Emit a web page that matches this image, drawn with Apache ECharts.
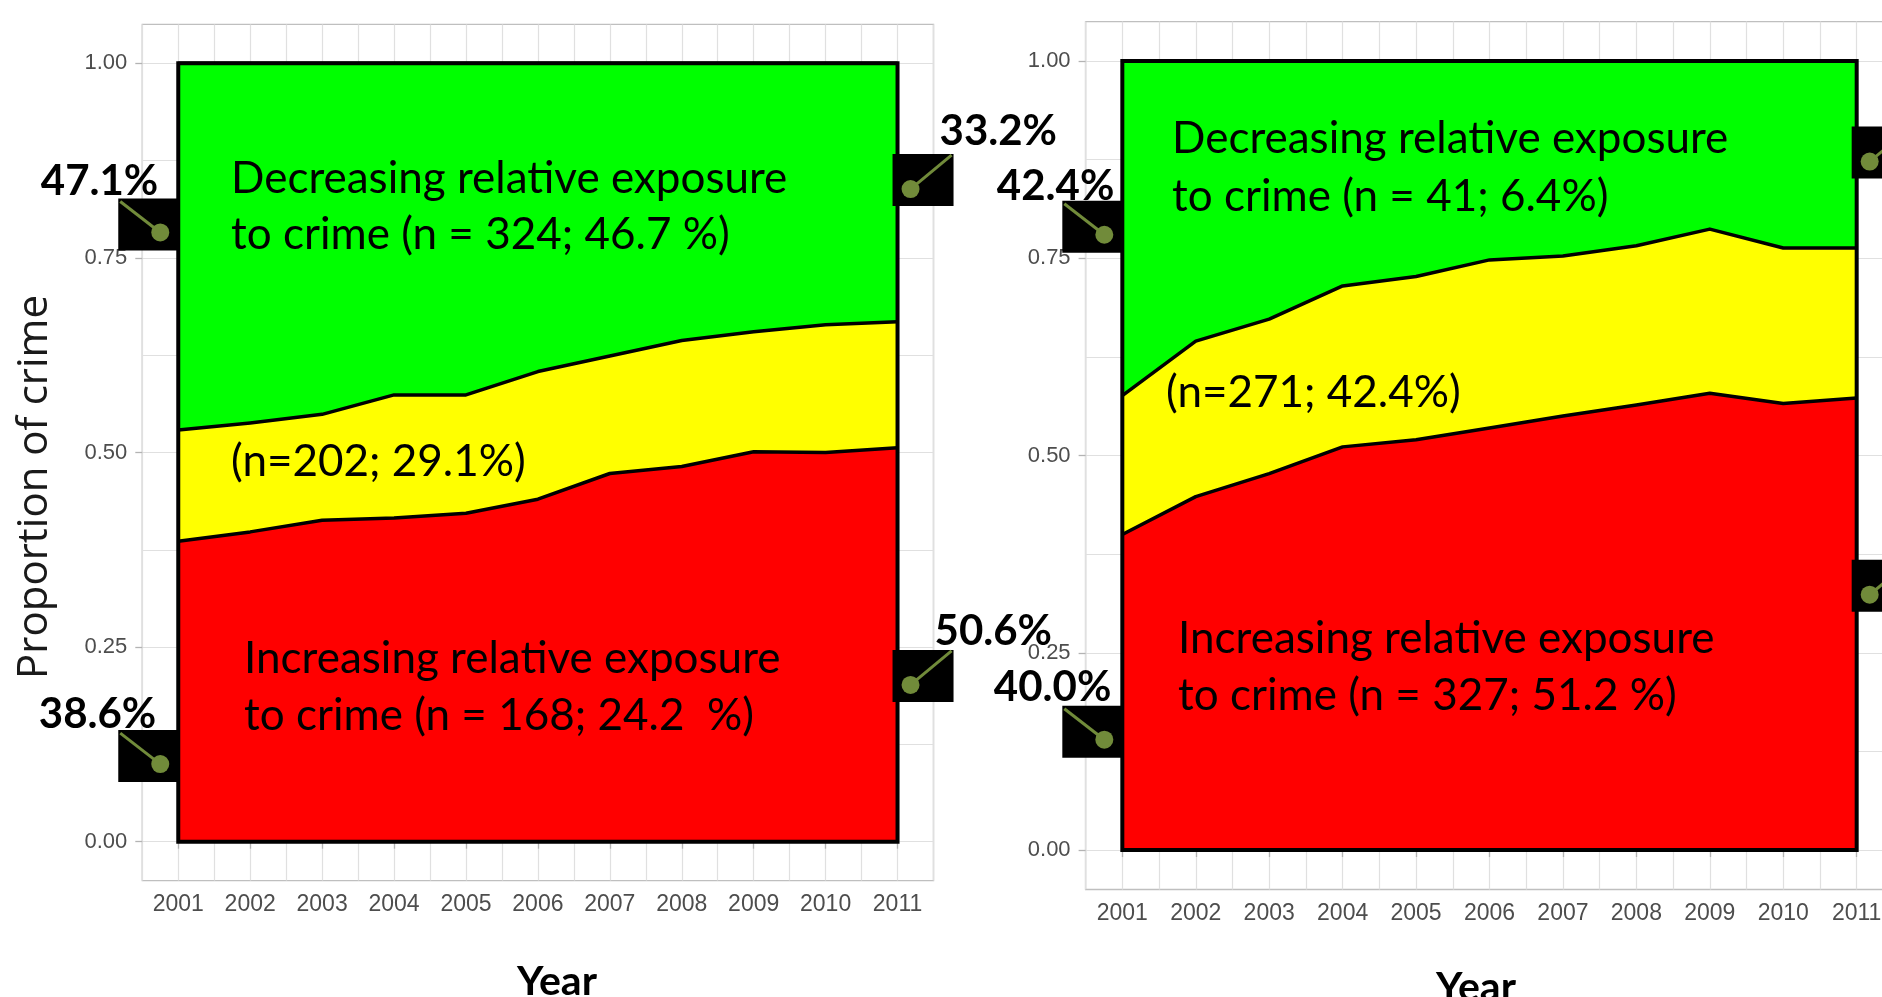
<!DOCTYPE html>
<html>
<head>
<meta charset="utf-8">
<title>Relative exposure to crime, 2001-2011</title>
<script src="https://cdn.jsdelivr.net/npm/echarts@6/dist/echarts.min.js"></script>
<style>
  html, body { margin: 0; padding: 0; background: #ffffff; }
  #chart { width: 1882px; height: 997px; }
</style>
</head>
<body>
<div id="chart"></div>
<script>
// x axis: one point per year
const years = [2001, 2002, 2003, 2004, 2005, 2006, 2007, 2008, 2009, 2010, 2011];

// left panel: share of crime per group, each year sums to 1
const leftIncreasing = [0.386, 0.398, 0.413, 0.416, 0.422, 0.440, 0.473, 0.482, 0.501, 0.500, 0.506];
const leftStable     = [0.143, 0.140, 0.136, 0.158, 0.152, 0.164, 0.151, 0.162, 0.154, 0.164, 0.162];
const leftDecreasing = [0.471, 0.462, 0.451, 0.426, 0.426, 0.396, 0.376, 0.356, 0.345, 0.336, 0.332];

// right panel
const rightIncreasing = [0.400, 0.448, 0.477, 0.511, 0.520, 0.535, 0.550, 0.564, 0.579, 0.566, 0.573];
const rightStable     = [0.176, 0.197, 0.196, 0.204, 0.207, 0.213, 0.203, 0.202, 0.208, 0.197, 0.190];
const rightDecreasing = [0.424, 0.355, 0.327, 0.285, 0.273, 0.252, 0.247, 0.234, 0.213, 0.237, 0.237];

// y ticks (labelled) and grid lines (major + minor, like ggplot)
const yTickValues = [0, 0.25, 0.5, 0.75, 1];
const yGridValues = [0, 0.125, 0.25, 0.375, 0.5, 0.625, 0.75, 0.875, 1];

// group labels written on the areas
const leftLabels = [
    'Decreasing relative exposure', 'to crime (n = 324; 46.7 %)',
    '(n=202; 29.1%)',
    'Increasing relative exposure', 'to crime (n = 168; 24.2  %)'
];
const rightLabels = [
    'Decreasing relative exposure', 'to crime (n = 41; 6.4%)',
    '(n=271; 42.4%)',
    'Increasing relative exposure', 'to crime (n = 327; 51.2 %)'
];

const RED = '#ff0000', YELLOW = '#ffff00', GREEN = '#00ff00';
const GRID_COLOR = '#e0e0e0', BORDER_COLOR = '#bfbfbf', TICK_COLOR = '#b3b3b3';
const LABEL_COLOR = '#4d4d4d', OLIVE = '#718b3a';
const TICK_FONT = '"Liberation Sans", Arial, sans-serif';
const NOTE_FONT = 'Lato, "Open Sans", sans-serif';

// running total of several share arrays -> upper edge of a stacked layer
function stackedTop(layers) {
    return years.map((y, i) => [y, layers.reduce((s, arr) => s + arr[i], 0)]);
}

// axes: for each grid one axis carries the grid lines, the other ticks + labels
function xGridAxis(gridIndex) {
    return {
        type: 'value', gridIndex, position: 'bottom', min: 2000.5, max: 2011.5, interval: 0.5,
        axisLine: { show: false }, axisTick: { show: false }, axisLabel: { show: false },
        splitLine: { show: true, lineStyle: { color: GRID_COLOR, width: 1.2 } }
    };
}
function xLabelAxis(gridIndex) {
    return {
        type: 'value', gridIndex, position: 'bottom', min: 2000.5, max: 2011.5,
        axisLine: { show: false }, splitLine: { show: false },
        axisTick: { show: true, customValues: years, length: 7, lineStyle: { color: TICK_COLOR, width: 1.3 } },
        axisLabel: {
            show: true, customValues: years, formatter: v => String(v), margin: 13,
            color: LABEL_COLOR, fontSize: 23, fontFamily: TICK_FONT
        }
    };
}
function yGridAxis(gridIndex) {
    return {
        type: 'value', gridIndex, position: 'left', min: -0.05, max: 1.05,
        axisLine: { show: false }, axisLabel: { show: false },
        axisTick: { show: false, customValues: yGridValues },
        splitLine: { show: true, lineStyle: { color: GRID_COLOR, width: 1.2 } }
    };
}
function yLabelAxis(gridIndex) {
    return {
        type: 'value', gridIndex, position: 'left', min: -0.05, max: 1.05,
        axisLine: { show: false }, splitLine: { show: false },
        axisTick: { show: true, customValues: yTickValues, length: 7, lineStyle: { color: TICK_COLOR, width: 1.3 } },
        axisLabel: {
            show: true, customValues: yTickValues, formatter: v => v.toFixed(2), margin: 15,
            color: LABEL_COLOR, fontSize: 22, fontFamily: TICK_FONT
        }
    };
}

// each layer is filled down to 0; later series paint over earlier ones,
// so drawing top layer first gives the stacked look
function layerSeries(name, data, color, axisIndex) {
    return {
        name, type: 'line', xAxisIndex: axisIndex, yAxisIndex: axisIndex,
        data, symbol: 'none', silent: true, z: 2,
        lineStyle: { color: '#000', width: 3.5, join: 'round' },
        areaStyle: { color, opacity: 1, origin: 0 },
        itemStyle: { color }
    };
}
// black frame around the stacked areas (ggplot polygon outline)
function frameSeries(axisIndex) {
    const first = years[0], last = years[years.length - 1];
    return {
        type: 'line', xAxisIndex: axisIndex, yAxisIndex: axisIndex, symbol: 'none', silent: true, z: 3, clip: false,
        data: [[first, 0], [last, 0], [last, 1], [first, 1], [first, 0]],
        lineStyle: { color: '#000', width: 4, join: 'miter', cap: 'square' }
    };
}
function panelSeries(inc, stable, dec, axisIndex) {
    return [
        layerSeries('Decreasing', stackedTop([inc, stable, dec]), GREEN, axisIndex),
        layerSeries('Stable', stackedTop([inc, stable]), YELLOW, axisIndex),
        layerSeries('Increasing', stackedTop([inc]), RED, axisIndex),
        frameSeries(axisIndex)
    ];
}

let myChart = echarts.init(document.getElementById('chart'));
myChart.setOption({
    animation: false,
    backgroundColor: '#ffffff',
    grid: [
        { left: 142.3, top: 24.4, width: 791.2, height: 856.2, show: true, borderColor: BORDER_COLOR, borderWidth: 1.4, outerBoundsMode: 'none' },
        { left: 1085.6, top: 21.6, width: 807.8, height: 867.9, show: true, borderColor: BORDER_COLOR, borderWidth: 1.4, outerBoundsMode: 'none' }
    ],
    xAxis: [xGridAxis(0), xLabelAxis(0), xGridAxis(1), xLabelAxis(1)],
    yAxis: [yGridAxis(0), yLabelAxis(0), yGridAxis(1), yLabelAxis(1)],
    series: [].concat(
        panelSeries(leftIncreasing, leftStable, leftDecreasing, 0),
        panelSeries(rightIncreasing, rightStable, rightDecreasing, 2)
    )
});

// callouts: black tag with an olive pin, anchored at the panel edge (data coords)
const pct = v => (v * 100).toFixed(1) + '%';
const callouts = [
    { axis: 0, year: 2001, value: 0.793, text: pct(leftDecreasing[0]), side: 'left', dx: -20, dy: -43 },
    { axis: 0, year: 2001, value: 0.110, text: pct(leftIncreasing[0]), side: 'left', dx: -22, dy: -42 },
    { axis: 0, year: 2011, value: 0.850, text: pct(leftDecreasing[10]), side: 'right', dx: 42, dy: -49 },
    { axis: 0, year: 2011, value: 0.213, text: pct(leftIncreasing[10]), side: 'right', dx: 37, dy: -44 },
    { axis: 2, year: 2001, value: 0.790, text: pct(rightDecreasing[0]), side: 'left', dx: -8, dy: -40 },
    { axis: 2, year: 2001, value: 0.150, text: pct(rightIncreasing[0]), side: 'left', dx: -11, dy: -44 },
    { axis: 2, year: 2011, value: 0.884, text: '', side: 'right' },
    { axis: 2, year: 2011, value: 0.335, text: '', side: 'right' }
];

const elements = [];
callouts.forEach(c => {
    const [px, cy] = myChart.convertToPixel({ xAxisIndex: c.axis, yAxisIndex: c.axis }, [c.year, c.value]);
    const left = c.side === 'left';
    const bx = left ? px - 60 : px - 5;
    const dot = left ? [px - 18, cy + 8] : [bx + 18, cy + 9];
    const tip = left ? [bx + 2, cy - 23] : [bx + 59, cy - 25];
    elements.push({ type: 'rect', z: 100, shape: { x: bx, y: cy - 26, width: 61, height: 52 }, style: { fill: '#000' } });
    elements.push({ type: 'line', z: 101, shape: { x1: tip[0], y1: tip[1], x2: dot[0], y2: dot[1] }, style: { stroke: OLIVE, lineWidth: 3 } });
    elements.push({ type: 'circle', z: 102, shape: { cx: dot[0], cy: dot[1], r: 9 }, style: { fill: OLIVE } });
    if (c.text) {
        elements.push({
            type: 'text', z: 103, x: px + c.dx, y: cy + c.dy,
            style: { text: c.text, font: 'bold 42px ' + NOTE_FONT, fill: '#000', align: left ? 'right' : 'left', verticalAlign: 'middle' }
        });
    }
});

// area labels (left x, cap-centre y for each line)
const labelPlaces = [
    [[231, 179], [231, 235], [231, 462], [244, 659], [244, 716]],
    [[1172, 139], [1172, 197], [1166, 393], [1178, 639], [1178, 696]]
];
[leftLabels, rightLabels].forEach((texts, p) => {
    texts.forEach((t, i) => {
        elements.push({
            type: 'text', z: 104, x: labelPlaces[p][i][0], y: labelPlaces[p][i][1],
            style: { text: t, font: '44px ' + NOTE_FONT, fill: '#000', align: 'left', verticalAlign: 'middle' }
        });
    });
});

// axis titles
elements.push({
    type: 'text', z: 104, x: 35, y: 487, rotation: Math.PI / 2,
    style: { text: 'Proportion of crime', font: '42px "Open Sans", sans-serif', fill: '#1a1a1a', align: 'center', verticalAlign: 'middle' }
});
elements.push({
    type: 'text', z: 104, x: 557, y: 982,
    style: { text: 'Year', font: 'bold 41px ' + NOTE_FONT, fill: '#000', align: 'center', verticalAlign: 'middle' }
});
elements.push({
    type: 'text', z: 104, x: 1476, y: 988,
    style: { text: 'Year', font: 'bold 41px ' + NOTE_FONT, fill: '#000', align: 'center', verticalAlign: 'middle' }
});

myChart.setOption({ graphic: { elements } });

window.onresize = function () {
    myChart.resize();
};
</script>
</body>
</html>
